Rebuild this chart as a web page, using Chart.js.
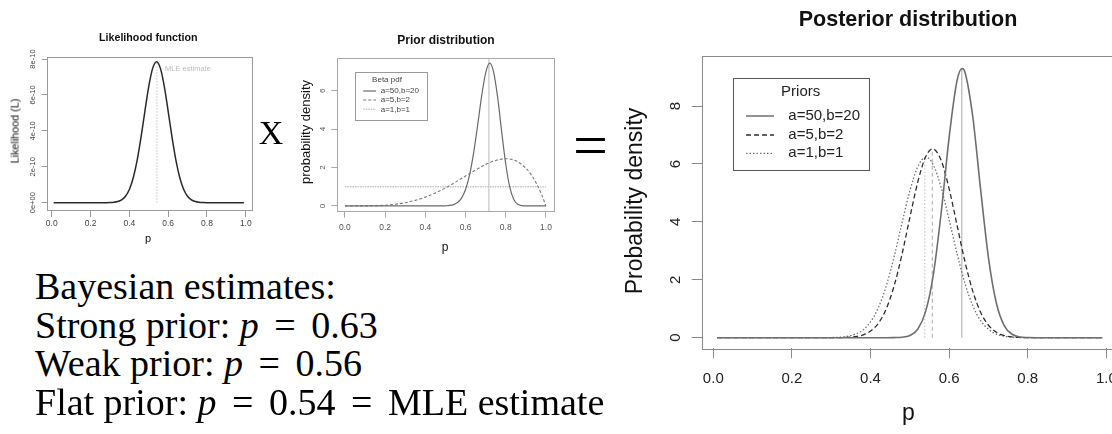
<!DOCTYPE html>
<html><head><meta charset="utf-8">
<script src="https://cdn.jsdelivr.net/npm/chart.js@4/dist/chart.umd.min.js"></script>
<style>
html,body{margin:0;padding:0;background:#fff;}
body{width:1112px;height:434px;overflow:hidden;position:relative;font-family:'Liberation Sans',Arial,sans-serif;}
.c{position:absolute;top:0;}
.t{position:absolute;white-space:nowrap;line-height:1;color:#111;}
.rot{transform:translate(-50%,-50%) rotate(-90deg);}
.ctr{transform:translateX(-50%);}
.serif{font-family:'Liberation Serif','Times New Roman',serif;color:#000;}
.eq{padding:0 6px;}
</style></head><body>
<div class="c" style="left:0;width:280px;height:260px"><canvas id="like" width="280" height="260" style="width:280px;height:260px"></canvas></div>
<div class="c" style="left:250px;width:330px;height:260px"><canvas id="prior" width="330" height="260" style="width:330px;height:260px"></canvas></div>
<div class="c" style="left:560px;width:620px;height:434px"><canvas id="post" width="620" height="434" style="width:620px;height:434px"></canvas></div>

<div class="t ctr" style="left:148.3px;top:31.9px;font-size:10.7px;font-weight:bold">Likelihood function</div>
<div class="t rot" style="left:15px;top:131px;font-size:10.8px">Likelihood (L)</div>
<div class="t ctr" style="left:148px;top:232.7px;font-size:11px">p</div>
<div class="t" style="left:165px;top:65.2px;font-size:7.5px;color:#bdbdbd">MLE estimate</div>

<div class="t ctr" style="left:446px;top:33.8px;font-size:12px;font-weight:bold">Prior distribution</div>
<div class="t rot" style="left:305px;top:132px;font-size:13px">probability density</div>
<div class="t ctr" style="left:445px;top:240.8px;font-size:12px">p</div>

<div class="t ctr" style="left:908px;top:8.5px;font-size:21.5px;font-weight:bold">Posterior distribution</div>
<div class="t rot" style="left:634px;top:201px;font-size:23px">Probability density</div>
<div class="t ctr" style="left:908.3px;top:401px;font-size:23px">p</div>

<div class="t serif ctr" style="left:271px;top:115.8px;font-size:34px">X</div>
<div class="t serif ctr" style="left:590.5px;top:114px;font-size:62px">=</div>

<div class="t serif" style="left:35px;top:266.5px;font-size:38px">Bayesian estimates:</div>
<div class="t serif" style="left:35px;top:305.9px;font-size:38px">Strong prior: <i>p</i> <span class="eq">=</span> 0.63</div>
<div class="t serif" style="left:35px;top:343.9px;font-size:38px">Weak prior: <i>p</i> <span class="eq">=</span> 0.56</div>
<div class="t serif" style="left:35px;top:382.5px;font-size:38px">Flat prior: <i>p</i> <span class="eq">=</span> 0.54 <span class="eq">=</span> MLE estimate</div>

<script>
// ---------- Likelihood function ----------
const likeP = [0.01,0.26,0.28,0.30,0.32,0.34,0.36,0.38,0.40,0.42,0.44,0.46,0.48,0.50,0.52,0.54,0.56,0.58,0.60,0.62,0.64,0.66,0.68,0.70,0.72,0.74,0.76,0.78,0.80,0.82,0.99];
const likeL = [0,0,0.002e-10,0.008e-10,0.023e-10,0.064e-10,0.16e-10,0.36e-10,0.74e-10,1.39e-10,2.36e-10,3.64e-10,5.09e-10,6.48e-10,7.48e-10,7.85e-10,7.48e-10,6.48e-10,5.09e-10,3.64e-10,2.36e-10,1.39e-10,0.74e-10,0.36e-10,0.16e-10,0.064e-10,0.023e-10,0.008e-10,0.002e-10,0,0];
const mleX = 0.542;
const mleHeight = 7.85e-10;
const likeXTicks = [0,0.2,0.4,0.6,0.8,1.0];
const likeXLabels = ['0.0','0.2','0.4','0.6','0.8','1.0'];
const likeYTicks = [0,2e-10,4e-10,6e-10,8e-10];
const likeYLabels = ['0e+00','2e-10','4e-10','6e-10','8e-10'];

// ---------- Prior distribution ----------
const priorStrongP = [0,0.46,0.48,0.50,0.52,0.54,0.56,0.58,0.60,0.62,0.64,0.66,0.68,0.70,0.72,0.74,0.76,0.78,0.80,0.82,0.84,0.86,0.88,0.90,0.92,1.0];
const priorStrongD = [0,0,0.002,0.008,0.025,0.070,0.178,0.41,0.86,1.62,2.75,4.19,5.72,6.93,7.44,6.96,5.63,3.84,2.17,0.98,0.34,0.086,0.014,0.002,0,0];
const priorWeakP = [0,0.05,0.10,0.15,0.20,0.25,0.30,0.35,0.40,0.45,0.50,0.55,0.60,0.65,0.70,0.75,0.80,0.85,0.90,0.925,0.95,0.975,1.0];
const priorWeakD = [0,0.0002,0.003,0.013,0.038,0.088,0.17,0.29,0.46,0.68,0.94,1.24,1.56,1.87,2.16,2.37,2.46,2.35,1.97,1.65,1.22,0.68,0];
const priorFlatP = [0,1];
const priorFlatD = [1,1];
const priorMeanX = 0.716;
const priorLabels = ['a=50,b=20','a=5,b=2','a=1,b=1'];
const priorXTicks = [0,0.2,0.4,0.6,0.8,1.0];
const priorXLabels = ['0.0','0.2','0.4','0.6','0.8','1.0'];
const priorYTicks = [0,2,4,6];
const priorYLabels = ['0','2','4','6'];

// ---------- Posterior distribution ----------
const postStrongP = [0.01,0.44,0.46,0.48,0.50,0.52,0.54,0.56,0.58,0.60,0.62,0.633,0.64,0.66,0.68,0.70,0.72,0.74,0.76,0.78,0.80,0.82,0.99];
const postStrongD = [0,0,0.003,0.017,0.078,0.29,0.90,2.20,4.35,6.93,8.88,9.30,9.18,7.64,5.12,2.76,1.20,0.42,0.12,0.027,0.005,0,0];
const postWeakP = [0.01,0.30,0.32,0.34,0.36,0.38,0.40,0.42,0.44,0.46,0.48,0.50,0.52,0.54,0.558,0.58,0.60,0.62,0.64,0.66,0.68,0.70,0.72,0.74,0.76,0.78,0.80,0.99];
const postWeakD = [0,0,0.003,0.011,0.034,0.092,0.23,0.50,1.00,1.79,2.88,4.15,5.37,6.24,6.52,6.11,5.14,3.89,2.64,1.61,0.88,0.43,0.19,0.076,0.027,0.009,0,0];
const postFlatP = [0.01,0.28,0.30,0.32,0.34,0.36,0.38,0.40,0.42,0.44,0.46,0.48,0.50,0.52,0.541,0.56,0.58,0.60,0.62,0.64,0.66,0.68,0.70,0.72,0.74,0.76,0.78,0.80,0.99];
const postFlatD = [0,0,0.005,0.016,0.045,0.114,0.26,0.55,1.04,1.79,2.80,3.96,5.07,5.90,6.23,5.96,5.17,4.07,2.91,1.88,1.11,0.59,0.29,0.125,0.05,0.018,0.006,0,0];
const postEstimates = [0.632,0.557,0.538];
const postPeaks = [9.30,6.52,6.22];
const postLabels = ['a=50,b=20','a=5,b=2','a=1,b=1'];
const postXTicks = [0,0.2,0.4,0.6,0.8,1.0];
const postXLabels = ['0.0','0.2','0.4','0.6','0.8','1.0'];
const postYTicks = [0,2,4,6,8];
const postYLabels = ['0','2','4','6','8'];

// ---------- helpers ----------
const FONT = "'Liberation Sans', Arial, sans-serif";
function pts(xs, ys){ return xs.map((x,i)=>({x:x, y:ys[i]})); }
function curve(label, xs, ys, color, width, dash){
  return {label, data: pts(xs,ys), borderColor: color, borderWidth: width, borderDash: dash||[],
          pointRadius:0, fill:false, cubicInterpolationMode:'monotone', tension:0.4};
}
function vline(x, y0, y1, color, width, dash){
  return {label:'', data: pts([x,x],[y0,y1]), borderColor: color, borderWidth: width, borderDash: dash||[],
          pointRadius:0, fill:false, tension:0};
}
function axis(min, max, tickVals, labels, o){
  return {
    type:'linear', min:min, max:max,
    afterBuildTicks: s => { s.ticks = tickVals.map(v => ({value:v})); },
    afterFit: s => {
      if (o.w != null) s.width = o.w;
      if (o.h != null) s.height = o.h;
      s.paddingLeft = 0; s.paddingRight = 0; s.paddingTop = 0; s.paddingBottom = 0;
    },
    grid:{display:true, drawOnChartArea:false, drawTicks:true, tickLength:o.tl, color:o.color, tickColor:o.color, lineWidth:1},
    border:{display:false},
    ticks:{autoSkip:false, padding:o.pad, color:o.tc, font:{family:FONT, size:o.fs},
           minRotation:o.rot||0, maxRotation:o.rot||0, crossAlign: o.rot ? 'center' : 'near',
           callback:(v,i)=>labels[i]}
  };
}
const boxPlugin = {
  id:'rbox',
  afterDatasetsDraw(chart, args, opts){
    const a = chart.chartArea, c = chart.ctx;
    c.save(); c.strokeStyle = opts.color || '#888'; c.lineWidth = 1;
    c.strokeRect(Math.round(a.left)+0.5, Math.round(a.top)+0.5, Math.round(a.right-a.left), Math.round(a.bottom-a.top));
    c.restore();
  }
};
const legendPlugin = {
  id:'rlegend',
  afterDatasetsDraw(chart, args, o){
    if (!o || !o.items) return;
    const a = chart.chartArea, c = chart.ctx;
    const L = a.left + o.x, T = a.top + o.y;
    c.save();
    c.fillStyle = '#fff'; c.fillRect(L, T, o.w, o.h);
    c.strokeStyle = o.borderColor; c.lineWidth = 1;
    c.strokeRect(Math.round(L)+0.5, Math.round(T)+0.5, Math.round(o.w), Math.round(o.h));
    c.font = o.fontSize + 'px ' + FONT; c.fillStyle = o.textColor; c.textBaseline = 'middle';
    c.textAlign = 'center'; c.fillText(o.title, a.left + o.titleX, a.top + o.titleY);
    c.textAlign = 'left';
    o.items.forEach((di, k) => {
      const ds = chart.data.datasets[di];
      const y = a.top + o.rowY[k];
      c.save(); c.strokeStyle = ds.borderColor; c.lineWidth = Math.min(ds.borderWidth, 1.5); c.setLineDash(ds.borderDash || []);
      c.beginPath(); c.moveTo(a.left + o.lineX1, y); c.lineTo(a.left + o.lineX2, y); c.stroke(); c.restore();
      c.fillText(ds.label, a.left + o.textX, y);
    });
    c.restore();
  }
};
function baseOptions(pad, xs, ys, boxColor, legend){
  return {
    responsive:false, animation:false, devicePixelRatio:1,
    layout:{padding:pad},
    scales:{x:xs, y:ys},
    plugins:{legend:{display:false}, tooltip:{enabled:false}, title:{display:false},
             rbox:{color:boxColor}, rlegend: legend || {}}
  };
}

// ---------- Chart 1: likelihood ----------
new Chart(document.getElementById('like'), {
  type:'line',
  data:{datasets:[
    curve('Likelihood', likeP, likeL, '#2a2a2a', 1.5),
    vline(mleX, 0, mleHeight, '#c8c8c8', 1, [1.5,1.5])
  ]},
  options: baseOptions({left:0, top:56.7, right:28, bottom:0},
    axis(-0.026, 1.032, likeXTicks, likeXLabels, {h:50, tl:7, pad:1.9, fs:8.5, tc:'#444', color:'#9a9a9a'}),
    axis(-0.406e-10, 8.13e-10, likeYTicks, likeYLabels, {w:46.7, tl:5, pad:-2.1, fs:7.5, tc:'#444', color:'#9a9a9a', rot:90}),
    '#9a9a9a'),
  plugins:[boxPlugin, legendPlugin]
});

// ---------- Chart 2: prior ----------
new Chart(document.getElementById('prior'), {
  type:'line',
  data:{datasets:[
    curve(priorLabels[0], priorStrongP, priorStrongD, '#6a6a6a', 1.2),
    curve(priorLabels[1], priorWeakP, priorWeakD, '#7a7a7a', 1.1, [3,2]),
    curve(priorLabels[2], priorFlatP, priorFlatD, '#c6c6c6', 1.5, [1.5,1]),
    vline(priorMeanX, -0.30, 7.69, '#d0d0d0', 1.5)
  ]},
  options: baseOptions({left:0, top:58.3, right:26, bottom:0},
    axis(-0.038, 1.040, priorXTicks, priorXLabels, {h:48.3, tl:6, pad:4.9, fs:8.5, tc:'#555', color:'#a8a8a8'}),
    axis(-0.30, 7.69, priorYTicks, priorYLabels, {w:87.3, tl:6, pad:6.4, fs:8, tc:'#555', color:'#a8a8a8', rot:90}),
    '#a8a8a8',
    {items:[0,1,2], title:'Beta pdf', x:17.7, y:13.4, w:71.7, h:48.3, titleX:49.7, titleY:21.7,
     rowY:[32.7,41.7,51], lineX1:26, lineX2:38.7, textX:43.4, fontSize:8, textColor:'#444', borderColor:'#999'}),
  plugins:[boxPlugin, legendPlugin]
});

// ---------- Chart 3: posterior ----------
new Chart(document.getElementById('post'), {
  type:'line',
  data:{datasets:[
    curve(postLabels[0], postStrongP, postStrongD, '#6e6e6e', 1.6),
    curve(postLabels[1], postWeakP, postWeakD, '#2e2e2e', 1.3, [5,3]),
    curve(postLabels[2], postFlatP, postFlatD, '#707070', 1.3, [1.5,2]),
    vline(postEstimates[0], 0, postPeaks[0], '#c4c4c4', 1.5),
    vline(postEstimates[1], 0, postPeaks[1], '#aaaaaa', 1, [4,3]),
    vline(postEstimates[2], 0, postPeaks[2], '#bdbdbd', 1, [1.5,2])
  ]},
  options: baseOptions({left:0, top:55.7, right:62, bottom:0},
    axis(-0.0295, 1.0295, postXTicks, postXLabels, {h:85.7, tl:10, pad:11.7, fs:15, tc:'#222', color:'#8a8a8a'}),
    axis(-0.366, 9.74, postYTicks, postYLabels, {w:141.7, tl:10, pad:11.5, fs:15, tc:'#222', color:'#8a8a8a', rot:90}),
    '#8a8a8a',
    {items:[0,1,2], title:'Priors', x:31, y:22, w:136.3, h:92.3, titleX:99, titleY:36,
     rowY:[60.3,79.3,97.6], lineX1:44.3, lineX2:72.3, textX:86.6, fontSize:15, textColor:'#222', borderColor:'#555'}),
  plugins:[boxPlugin, legendPlugin]
});
</script>
</body></html>
